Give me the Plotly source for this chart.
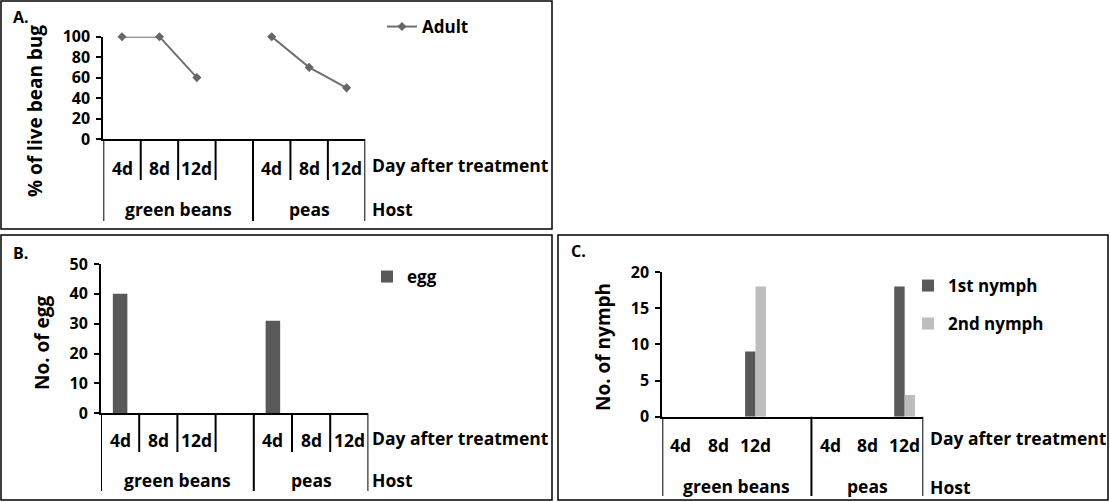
import plotly.graph_objects as go

# ---------------- data ----------------
days = ["4d", "8d", "12d"]
hosts = ["green beans", "peas"]

adult_green_beans = [100, 100, 60]
adult_peas = [100, 70, 50]

egg_green_beans = [40, 0, 0]
egg_peas = [31, 0, 0]

nymph1_green_beans = [0, 0, 9]
nymph1_peas = [0, 0, 18]
nymph2_green_beans = [0, 0, 18]
nymph2_peas = [0, 0, 3]

yticks_A = [0, 20, 40, 60, 80, 100]
yticks_B = [0, 10, 20, 30, 40, 50]
yticks_C = [0, 5, 10, 15, 20]

# ---------------- layout helpers ----------------
W, H = 1110, 502
FONT = "Open Sans"


def fx(px):
    return px / W


def fy(py):
    return 1 - py / H


slots_per_group = len(days) + 1          # Excel leaves a blank slot after each host group
n_slots = slots_per_group * (len(hosts) - 1) + len(days)
xr = [-0.5, n_slots - 0.5]


def positions():
    out = []
    for h in range(len(hosts)):
        for d in range(len(days)):
            out.append(h * slots_per_group + d)
    return out


pos = positions()

fig = go.Figure()

# Panel A: line
x_line, y_line = [], []
for h, vals in enumerate([adult_green_beans, adult_peas]):
    if h > 0:
        x_line.append(h * slots_per_group - 1)
        y_line.append(None)
    for d, v in enumerate(vals):
        x_line.append(h * slots_per_group + d)
        y_line.append(v)
fig.add_trace(go.Scatter(
    x=x_line, y=y_line, name="Adult", mode="lines+markers",
    line=dict(color="#707070", width=2),
    marker=dict(symbol="diamond", size=7, color="#666666"),
    connectgaps=False, cliponaxis=False, xaxis="x", yaxis="y", legend="legend"))

# Panel B: bars
fig.add_trace(go.Bar(
    x=pos, y=egg_green_beans + egg_peas, name="egg",
    marker=dict(color="#595959", line=dict(width=0)), width=0.38,
    xaxis="x2", yaxis="y2", legend="legend2"))

# Panel C: grouped bars
bw = 0.28
fig.add_trace(go.Bar(
    x=pos, y=nymph1_green_beans + nymph1_peas, name="1st nymph",
    marker=dict(color="#595959", line=dict(width=0)), width=bw, offset=-bw,
    xaxis="x3", yaxis="y3", legend="legend3"))
fig.add_trace(go.Bar(
    x=pos, y=nymph2_green_beans + nymph2_peas, name="2nd nymph",
    marker=dict(color="#bdbdbd", line=dict(width=0)), width=bw, offset=0,
    xaxis="x3", yaxis="y3", legend="legend4"))

# panel geometry (pixels)
panels = {
    "A": dict(x0=103.3, x1=365.3, y0=36.7, y1=139.0, rng=[0, 100], ticks=yticks_A,
              xa="x", ya="y", short=True, short_bot=180, long_bot=221,
              day_y=168, host_y=209, dat_y=165, hostlbl_y=209, lbl_x=370,
              title="% of live bean bug", tx=35, ty=111,
              box=(1, 1, 552, 229), tag="A.", tagx=11, tagy=17),
    "B": dict(x0=101.0, x1=368.4, y0=264.0, y1=413.3, rng=[0, 50], ticks=yticks_B,
              xa="x2", ya="y2", short=True, short_bot=452, long_bot=491,
              day_y=440, host_y=480, dat_y=438, hostlbl_y=480, lbl_x=370,
              title="No. of egg", tx=42, ty=343,
              box=(1, 235, 552, 500), tag="B.", tagx=11, tagy=253),
    "C": dict(x0=662.3, x1=923.3, y0=272.0, y1=416.7, rng=[0, 20], ticks=yticks_C,
              xa="x3", ya="y3", short=False, short_bot=496, long_bot=496,
              day_y=445, host_y=486, dat_y=438, hostlbl_y=487, lbl_x=928,
              title="No. of nymph", tx=603, ty=347,
              box=(558, 235, 1108, 500), tag="C.", tagx=569, tagy=251),
}

tickfont = dict(family=FONT, size=16, color="black", weight="bold")
textfont = dict(family=FONT, size=17.5, color="black", weight="bold")

layout_axes = {}
shapes = []
annotations = []
for key, p in panels.items():
    xname = "xaxis" + p["xa"][1:]
    yname = "yaxis" + p["ya"][1:]
    layout_axes[xname] = dict(
        domain=[fx(p["x0"]), fx(p["x1"])], range=xr, anchor=p["ya"],
        showline=True, linecolor="black", linewidth=2, showgrid=False,
        zeroline=False, showticklabels=False, ticks="", fixedrange=True,
        automargin=False)
    layout_axes[yname] = dict(
        domain=[fy(p["y1"]), fy(p["y0"])], range=p["rng"], anchor=p["xa"],
        tickvals=p["ticks"], showline=True, linecolor="black", linewidth=2,
        ticks="outside", ticklen=5, tickwidth=2, tickcolor="black",
        ticklabelstandoff=3, automargin=False,
        showgrid=False, zeroline=False, tickfont=tickfont, fixedrange=True)

    # category dividers
    ybase = fy(p["y1"])
    for h in range(len(hosts)):
        g0 = h * slots_per_group - 0.5
        g1 = min(g0 + slots_per_group, xr[1])
        shapes.append(dict(type="line", xref=p["xa"], yref="paper", x0=g0, x1=g0,
                           y0=ybase, y1=fy(p["long_bot"]),
                           line=dict(color="black", width=2)))
        if p["short"]:
            b = g0 + 1
            while b < g1:
                shapes.append(dict(type="line", xref=p["xa"], yref="paper", x0=b, x1=b,
                                   y0=ybase, y1=fy(p["short_bot"]),
                                   line=dict(color="black", width=2)))
                b += 1
        # host label
        annotations.append(dict(text=hosts[h], xref=p["xa"], yref="paper",
                                x=(g0 + g1) / 2, y=fy(p["host_y"]), showarrow=False,
                                font=textfont, xanchor="center", yanchor="middle"))
        for d in range(len(days)):
            annotations.append(dict(text=days[d], xref=p["xa"], yref="paper",
                                    x=h * slots_per_group + d, y=fy(p["day_y"]),
                                    showarrow=False, font=textfont,
                                    xanchor="center", yanchor="middle"))
    shapes.append(dict(type="line", xref=p["xa"], yref="paper", x0=xr[1], x1=xr[1],
                       y0=ybase, y1=fy(p["long_bot"]),
                       line=dict(color="black", width=2)))

    annotations.append(dict(text="Day after treatment", xref="paper", yref="paper",
                            x=fx(p["lbl_x"]), y=fy(p["dat_y"]), showarrow=False,
                            font=textfont, xanchor="left", yanchor="middle"))
    annotations.append(dict(text="Host", xref="paper", yref="paper",
                            x=fx(p["lbl_x"]), y=fy(p["hostlbl_y"]), showarrow=False,
                            font=textfont, xanchor="left", yanchor="middle"))
    annotations.append(dict(text=p["title"], xref="paper", yref="paper",
                            x=fx(p["tx"]), y=fy(p["ty"]), showarrow=False,
                            textangle=-90, font=dict(family=FONT, size=19, color="black",
                                                     weight="bold"),
                            xanchor="center", yanchor="middle"))
    annotations.append(dict(text=p["tag"], xref="paper", yref="paper",
                            x=fx(p["tagx"]), y=fy(p["tagy"]), showarrow=False,
                            font=dict(family=FONT, size=16, color="black", weight="bold"),
                            xanchor="left", yanchor="middle"))
    bx0, by0, bx1, by1 = p["box"]
    shapes.append(dict(type="rect", xref="paper", yref="paper",
                       x0=fx(bx0), x1=fx(bx1), y0=fy(by1), y1=fy(by0),
                       line=dict(color="black", width=1.5)))

legfont = dict(family=FONT, size=17, color="black", weight="bold")


def legend_at(text_x, center_y):
    return dict(x=fx(text_x - 40), y=fy(center_y), xanchor="left", yanchor="middle",
                font=legfont, bgcolor="rgba(0,0,0,0)", borderwidth=0,
                itemclick=False, itemdoubleclick=False)


fig.update_layout(
    width=W, height=H,
    margin=dict(l=0, r=0, t=0, b=0, pad=0, autoexpand=False),
    paper_bgcolor="white", plot_bgcolor="white",
    barmode="overlay",
    showlegend=True,
    legend=legend_at(422, 27),
    legend2=legend_at(407, 277),
    legend3=legend_at(948, 286),
    legend4=legend_at(948, 324),
    shapes=shapes,
    annotations=annotations,
    **layout_axes,
)

fig.write_html(
    "out.html",
    config={"displayModeBar": False},
    post_script="document.documentElement.style.margin='0';"
                "document.body.style.margin='0';"
                "document.body.style.overflow='hidden';",
)
